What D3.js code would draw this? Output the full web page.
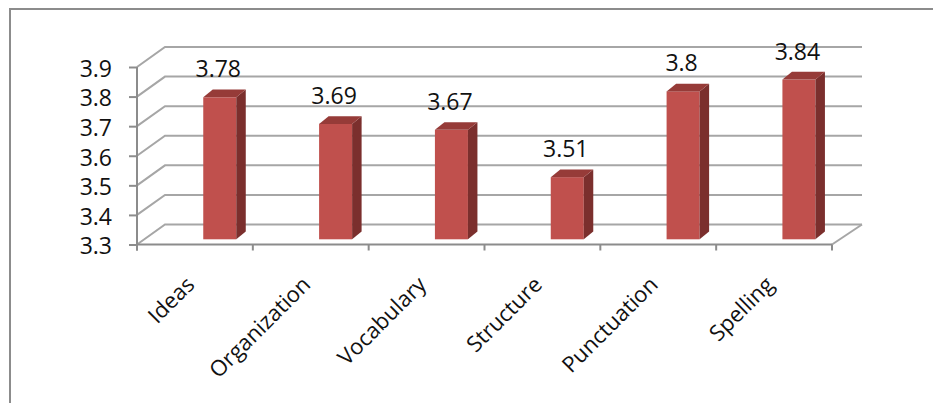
<!DOCTYPE html>
<html>
<head>
<meta charset="utf-8">
<script src="https://cdn.jsdelivr.net/npm/d3@7"></script>
<style>
  body { margin: 0; background: #fff; }
  svg { display: block; }
  text { font-family: "Open Sans", "DejaVu Sans", sans-serif; fill: #111; }
</style>
</head>
<body>
<div id="chart"></div>
<script>
// chart data
const categories = ['Ideas', 'Organization', 'Vocabulary', 'Structure', 'Punctuation', 'Spelling'];
const scores = [3.78, 3.69, 3.67, 3.51, 3.8, 3.84];
const yTicks = [3.3, 3.4, 3.5, 3.6, 3.7, 3.8, 3.9];

const width = 933, height = 403;
const plot = { left: 137, right: 832, top: 67, bottom: 244.5 };
const wall = { dx: 28, dy: -20 };      // depth of the back wall
const barShift = -5.2;                 // bars stand a bit behind the front plane
const depth = { dx: 9.5, dy: -7.7 };   // bar thickness
const fontSize = 23;

const svg = d3.select('#chart').append('svg')
  .attr('width', width)
  .attr('height', height);

// outer frame
svg.append('path')
  .attr('d', `M10,${height + 5}V9H${width + 5}`)
  .attr('fill', 'none')
  .attr('stroke', '#8c8c8c')
  .attr('stroke-width', 2);

const x = d3.scaleBand().domain(categories).range([plot.left, plot.right]);
const y = d3.scaleLinear().domain([yTicks[0], yTicks[yTicks.length - 1]]).range([plot.bottom, plot.top]);

// side wall + back wall gridlines
svg.append('g').selectAll('path')
  .data(yTicks)
  .join('path')
  .attr('d', t => `M${plot.left},${y(t)}L${plot.left + wall.dx},${y(t) + wall.dy}H${plot.right + 30}`)
  .attr('fill', 'none')
  .attr('stroke', '#a6a6a6')
  .attr('stroke-width', 2);

// floor right edge
svg.append('path')
  .attr('d', `M${plot.right},${plot.bottom}L${plot.right + 30},${plot.bottom + wall.dy}`)
  .attr('fill', 'none')
  .attr('stroke', '#a6a6a6')
  .attr('stroke-width', 2);

// y axis
const yAxis = d3.axisLeft(y).tickValues(yTicks).tickSize(8).tickPadding(17).tickSizeOuter(0)
  .tickFormat(d3.format('.1f'));
svg.append('g')
  .attr('transform', `translate(${plot.left},0)`)
  .call(yAxis)
  .call(g => g.select('.domain').remove())
  .call(g => g.selectAll('line').attr('stroke', '#8c8c8c').attr('stroke-width', 2))
  .call(g => g.selectAll('text')
    .attr('font-size', fontSize)
    .attr('font-family', '"Open Sans", "DejaVu Sans", sans-serif')
    .attr('fill', '#111')
    .attr('y', 1)
    .attr('dy', '0.36em'));

svg.append('line')
  .attr('x1', plot.left).attr('x2', plot.left)
  .attr('y1', plot.top).attr('y2', plot.bottom + 6)
  .attr('stroke', '#8c8c8c').attr('stroke-width', 2);

// x axis line and category boundary ticks
svg.append('line')
  .attr('x1', plot.left).attr('x2', plot.right)
  .attr('y1', plot.bottom).attr('y2', plot.bottom)
  .attr('stroke', '#8c8c8c').attr('stroke-width', 2);

svg.append('g').selectAll('line')
  .data(d3.range(categories.length + 1))
  .join('line')
  .attr('x1', i => plot.left + i * x.step())
  .attr('x2', i => plot.left + i * x.step())
  .attr('y1', plot.bottom)
  .attr('y2', plot.bottom + 6)
  .attr('stroke', '#8c8c8c')
  .attr('stroke-width', 2);

// category labels
svg.append('g').selectAll('text')
  .data(categories)
  .join('text')
  .attr('transform', d => `translate(${x(d) + x.bandwidth() / 2 + 1},286) rotate(-45)`)
  .attr('text-anchor', 'end')
  .attr('font-size', 22)
  .text(d => d);

// bars
const bars = categories.map((c, i) => ({ c, v: scores[i] }));
const bw = x.bandwidth() * 0.285;
const bx = d => x(d.c) + x.bandwidth() * 0.572;
const yb = v => y(v) + barShift;

const g = svg.append('g').selectAll('g')
  .data(bars)
  .join('g');

g.append('rect')
  .attr('x', bx)
  .attr('y', d => yb(d.v))
  .attr('width', bw)
  .attr('height', d => yb(yTicks[0]) - yb(d.v))
  .attr('fill', '#c0504d');

g.append('path')
  .attr('d', d => {
    const x0 = bx(d) + bw, t = yb(d.v), b = yb(yTicks[0]);
    return `M${x0},${t}L${x0 + depth.dx},${t + depth.dy}L${x0 + depth.dx},${b + depth.dy}L${x0},${b}Z`;
  })
  .attr('fill', '#7b2f2d');

g.append('path')
  .attr('d', d => {
    const x0 = bx(d), t = yb(d.v);
    return `M${x0},${t}L${x0 + depth.dx},${t + depth.dy}L${x0 + bw + depth.dx},${t + depth.dy}L${x0 + bw},${t}Z`;
  })
  .attr('fill', '#963b38');

// value labels
g.append('text')
  .attr('x', d => bx(d) + bw / 2 - 1.5)
  .attr('y', d => yb(d.v) - 20)
  .attr('text-anchor', 'middle')
  .attr('font-size', fontSize)
  .text(d => d.v);
</script>
</body>
</html>
